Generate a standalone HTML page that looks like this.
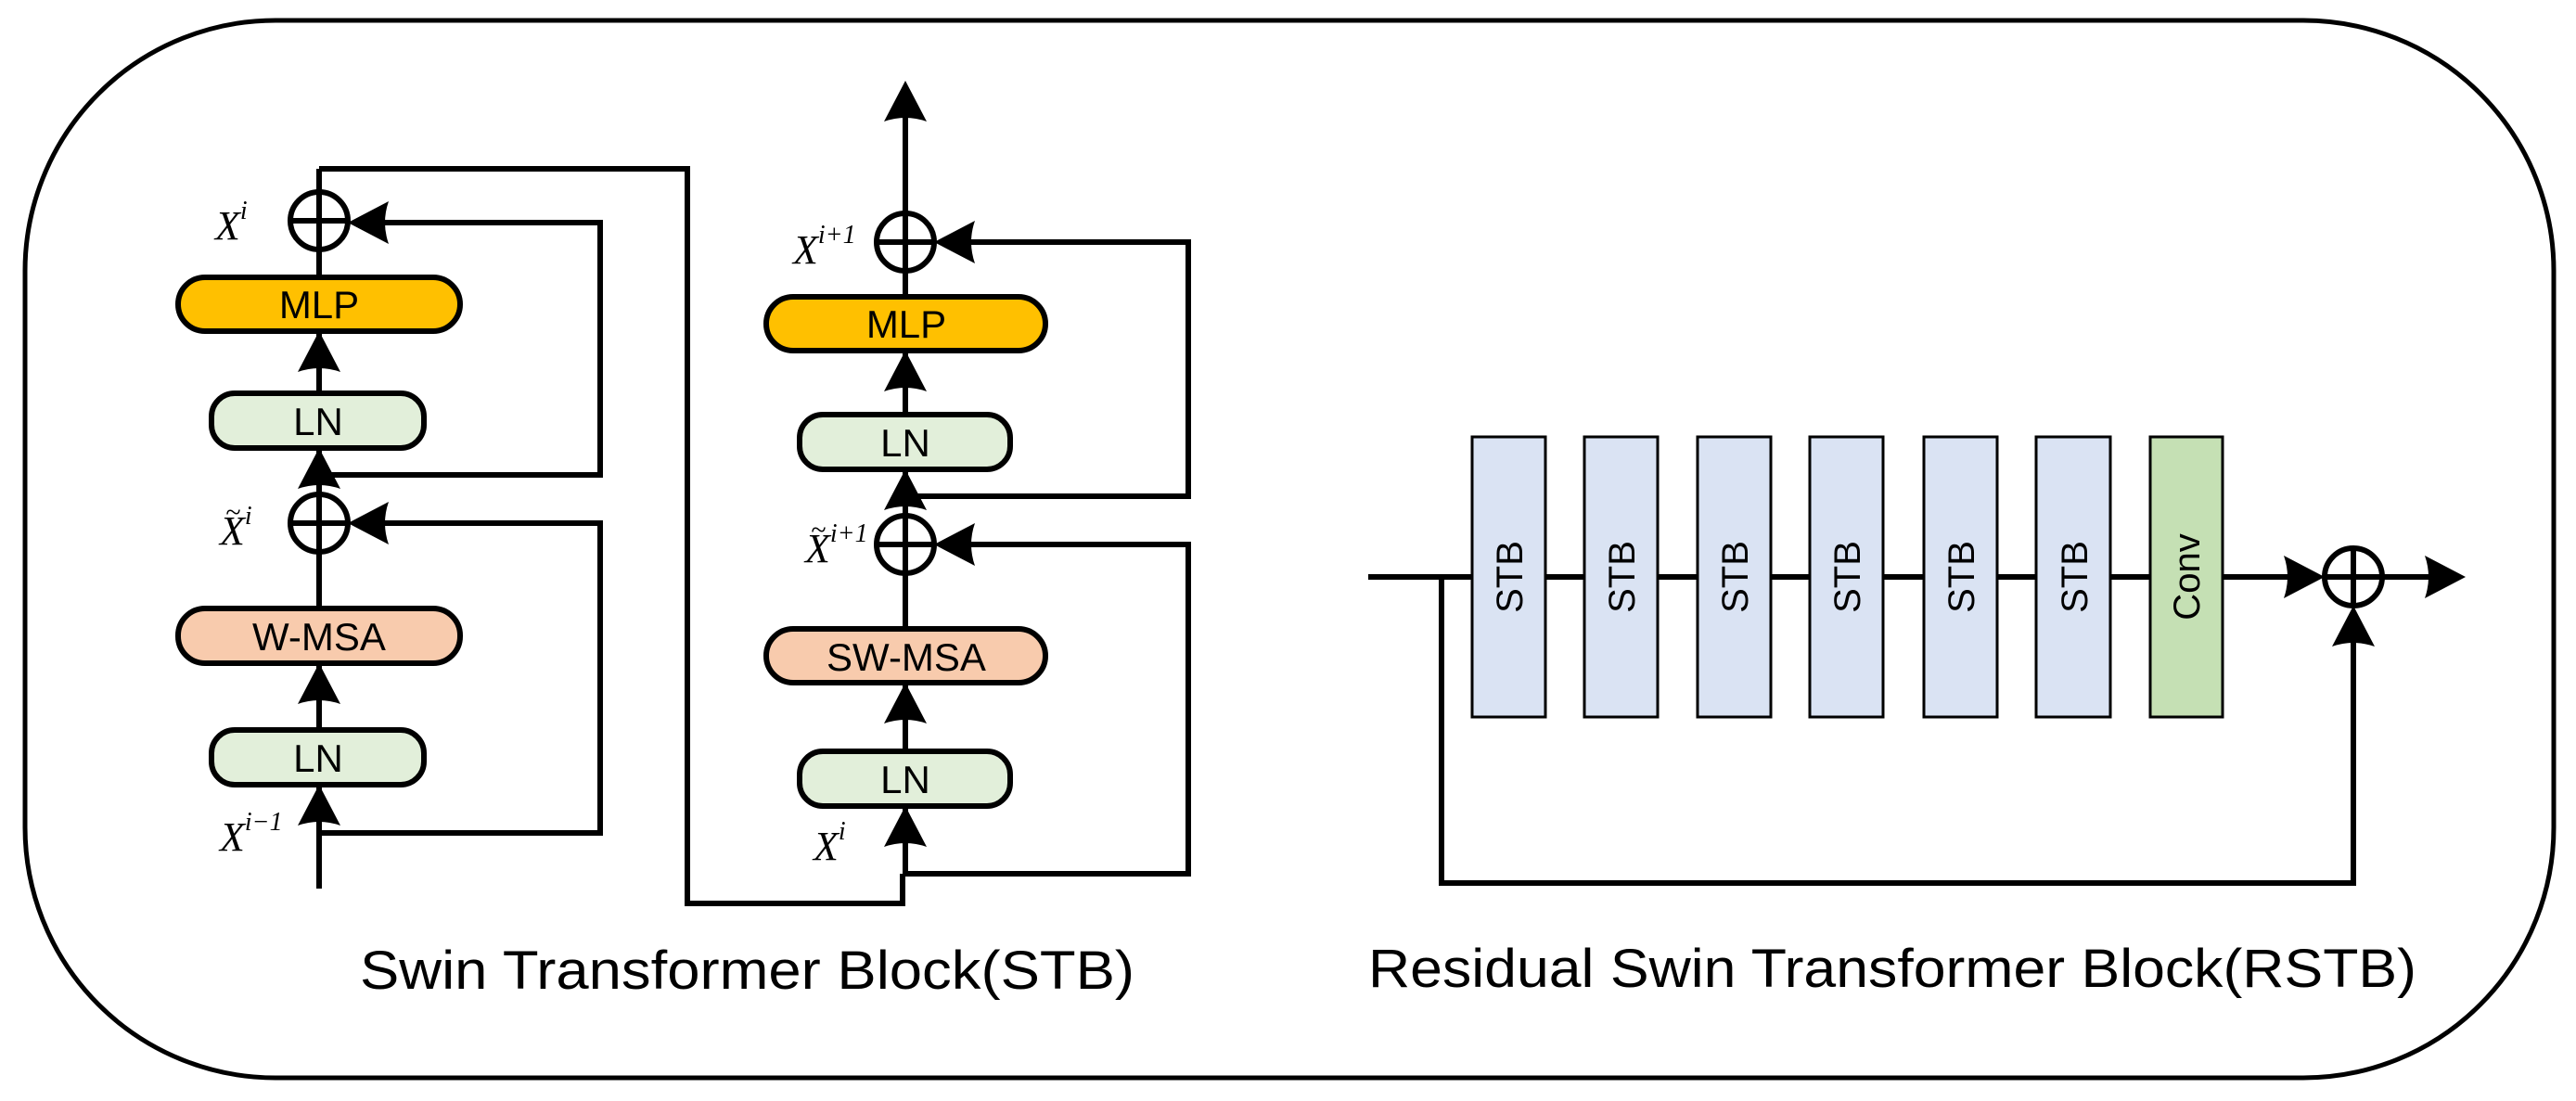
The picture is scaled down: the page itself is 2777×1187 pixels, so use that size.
<!DOCTYPE html>
<html><head><meta charset="utf-8"><style>
html,body{margin:0;padding:0;background:#fff;}
svg{display:block;}
.t{font-family:"Liberation Sans",sans-serif;fill:#000;}
.m{font-family:"Liberation Serif",serif;font-style:italic;fill:#000;}
</style></head><body>
<svg width="2777" height="1187" viewBox="0 0 2777 1187" xmlns="http://www.w3.org/2000/svg">
<defs>
<path id="ah" d="M0,0 L-44,-23 Q-36,0 -44,23 Z"/>
</defs>
<rect x="27" y="22" width="2726" height="1140" rx="270" ry="270" fill="none" stroke="#000" stroke-width="5"/>

<g stroke="#000" stroke-width="6" fill="none">
<line x1="344" y1="958" x2="344" y2="182"/>
<polyline points="344,182 741,182 741,974 973,974 973,942"/>
<polyline points="344,898 647,898 647,564 410,564"/>
<polyline points="344,512 647,512 647,240 410,240"/>
<line x1="976" y1="942" x2="976" y2="120"/>
<polyline points="976,942 1281,942 1281,587 1040,587"/>
<polyline points="976,535 1281,535 1281,261 1040,261"/>
<circle cx="344" cy="238" r="31" fill="#fff"/>
<circle cx="344" cy="564" r="31" fill="#fff"/>
<circle cx="976" cy="261" r="31" fill="#fff"/>
<circle cx="976" cy="587" r="31" fill="#fff"/>
<line x1="313" y1="238" x2="375" y2="238"/><line x1="344" y1="207" x2="344" y2="269"/>
<line x1="313" y1="564" x2="375" y2="564"/><line x1="344" y1="533" x2="344" y2="595"/>
<line x1="945" y1="261" x2="1007" y2="261"/><line x1="976" y1="230" x2="976" y2="292"/>
<line x1="945" y1="587" x2="1007" y2="587"/><line x1="976" y1="556" x2="976" y2="618"/>
</g>

<g stroke="#000" stroke-width="6">
<rect x="192" y="299" width="304" height="58" rx="29" fill="#FFC000"/>
<rect x="228" y="424" width="229" height="59" rx="25" fill="#E2EFDA"/>
<rect x="192" y="656" width="304" height="59" rx="29" fill="#F8CBAD"/>
<rect x="228" y="787" width="229" height="59" rx="25" fill="#E2EFDA"/>
<rect x="826" y="320" width="301" height="58" rx="29" fill="#FFC000"/>
<rect x="862" y="447" width="227" height="59" rx="25" fill="#E2EFDA"/>
<rect x="826" y="678" width="301" height="58" rx="29" fill="#F8CBAD"/>
<rect x="862" y="810" width="227" height="59" rx="25" fill="#E2EFDA"/>
</g>
<g class="t" font-size="42" text-anchor="middle">
<text x="344" y="343">MLP</text>
<text x="343" y="469">LN</text>
<text x="344" y="701">W-MSA</text>
<text x="343" y="832">LN</text>
<text x="977" y="364">MLP</text>
<text x="976" y="492">LN</text>
<text x="977" y="723">SW-MSA</text>
<text x="976" y="855">LN</text>
</g>

<g fill="#000">
<use href="#ah" transform="translate(375,240) rotate(180)"/>
<use href="#ah" transform="translate(375,564) rotate(180)"/>
<use href="#ah" transform="translate(1007,261) rotate(180)"/>
<use href="#ah" transform="translate(1007,587) rotate(180)"/>
<use href="#ah" transform="translate(344,357) rotate(-90)"/>
<use href="#ah" transform="translate(344,483) rotate(-90)"/>
<use href="#ah" transform="translate(344,715) rotate(-90)"/>
<use href="#ah" transform="translate(344,846) rotate(-90)"/>
<use href="#ah" transform="translate(976,87) rotate(-90)"/>
<use href="#ah" transform="translate(976,378) rotate(-90)"/>
<use href="#ah" transform="translate(976,506) rotate(-90)"/>
<use href="#ah" transform="translate(976,736) rotate(-90)"/>
<use href="#ah" transform="translate(976,869) rotate(-90)"/>
</g>

<g class="m">
<text x="232" y="258" font-size="44">X<tspan font-size="28" dy="-22">i</tspan></text>
<text x="237" y="587" font-size="44">X<tspan font-size="28" dy="-22">i</tspan></text>
<text x="243" y="562" font-size="30">~</text>
<text x="237" y="917" font-size="44">X<tspan font-size="28" dy="-22">i−1</tspan></text>
<text x="855" y="284" font-size="44">X<tspan font-size="28" dy="-22">i+1</tspan></text>
<text x="868" y="606" font-size="44">X<tspan font-size="28" dy="-22">i+1</tspan></text>
<text x="874" y="581" font-size="30">~</text>
<text x="877" y="927" font-size="44">X<tspan font-size="28" dy="-22">i</tspan></text>
</g>

<text class="t" x="388" y="1066" font-size="58" textLength="835" lengthAdjust="spacingAndGlyphs">Swin Transformer Block(STB)</text>
<text class="t" x="1475" y="1064" font-size="58" textLength="1130" lengthAdjust="spacingAndGlyphs">Residual Swin Transformer Block(RSTB)</text>

<g stroke="#000" stroke-width="6" fill="none">
<line x1="1475" y1="622" x2="2395" y2="622"/>
<polyline points="1554,622 1554,952 2537,952 2537,660"/>
<line x1="2395" y1="622" x2="2470" y2="622"/>
<line x1="2569" y1="622" x2="2620" y2="622"/>
<circle cx="2537" cy="622" r="31" fill="#fff"/>
<line x1="2506" y1="622" x2="2568" y2="622"/><line x1="2537" y1="591" x2="2537" y2="653"/>
</g>
<g stroke="#000" stroke-width="3" fill="#DAE3F3">
<rect x="1587" y="471" width="79" height="302"/>
<rect x="1708" y="471" width="79" height="302"/>
<rect x="1830" y="471" width="79" height="302"/>
<rect x="1951" y="471" width="79" height="302"/>
<rect x="2074" y="471" width="79" height="302"/>
<rect x="2195" y="471" width="80" height="302"/>
<rect x="2318" y="471" width="78" height="302" fill="#C5E0B4"/>
</g>
<g class="t" font-size="40" text-anchor="middle">
<text transform="translate(1641,622) rotate(-90)">STB</text>
<text transform="translate(1762,622) rotate(-90)">STB</text>
<text transform="translate(1884,622) rotate(-90)">STB</text>
<text transform="translate(2005,622) rotate(-90)">STB</text>
<text transform="translate(2128,622) rotate(-90)">STB</text>
<text transform="translate(2250,622) rotate(-90)">STB</text>
<text transform="translate(2371,622) rotate(-90)">Conv</text>
</g>
<g fill="#000">
<use href="#ah" transform="translate(2506,622)"/>
<use href="#ah" transform="translate(2658,622)"/>
<use href="#ah" transform="translate(2537,653) rotate(-90)"/>
</g>
</svg>
</body></html>
